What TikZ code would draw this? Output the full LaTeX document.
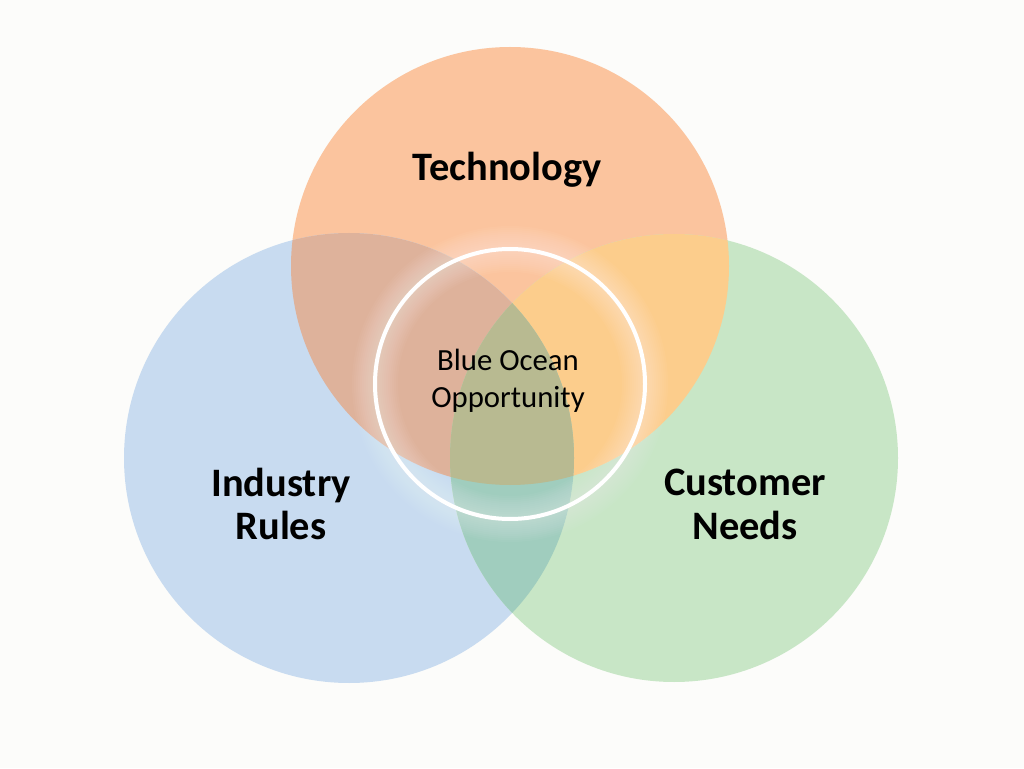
\documentclass[tikz,border=0pt]{standalone}
\usepackage{fontspec}
\setmainfont{Carlito}
\usepackage{xcolor}
\definecolor{vnbg}{RGB}{252,252,250}
\definecolor{vnorange}{RGB}{251,196,158}
\definecolor{vnblue}{RGB}{200,219,240}
\definecolor{vngreen}{RGB}{200,230,198}
\definecolor{vnob}{RGB}{222,178,155}
\definecolor{vnog}{RGB}{252,205,140}
\definecolor{vnbg2}{RGB}{160,205,190}
\definecolor{vnall}{RGB}{184,186,145}
\usetikzlibrary{positioning}

\begin{document}
\begin{tikzpicture}[x=0.02cm, y=0.02cm,
    biglabel/.style={font=\fontsize{23}{25}\selectfont\bfseries, text=black, align=center},
    midlabel/.style={font=\fontsize{17.5}{21}\selectfont, text=black, align=center}]
  % Background
  \fill[vnbg] (0,0) rectangle (1024,768);
  \useasboundingbox (0,0) rectangle (1024,768);

  % Base circles
  \fill[vnorange] (510,502) circle (219);
  \fill[vnblue] (349,310) circle (225);
  \fill[vngreen] (674,310) circle (224);

  % Pairwise overlaps
  \begin{scope}
    \clip (510,502) circle (219);
    \fill[vnob] (349,310) circle (225);
    \fill[vnog] (674,310) circle (224);
  \end{scope}
  \begin{scope}
    \clip (349,310) circle (225);
    \fill[vnbg2] (674,310) circle (224);
  \end{scope}

  % Centre overlap
  \begin{scope}
    \clip (510,502) circle (219);
    \clip (349,310) circle (225);
    \fill[vnall] (674,310) circle (224);
  \end{scope}

  % Soft glow around the centre ring
  \foreach \w in {46,42,...,6}
    \draw[white, line width=\w*0.02cm, opacity=0.035] (510,384) circle (135);
  \draw[white, line width=4*0.02cm] (510,384) circle (135);

  % Labels
  \node[biglabel] (tech) at (507,598) {Technology};
  \node[biglabel] (rules) at (281,264) {Industry\\Rules};
  \node[biglabel] (needs) at (745,264) {Customer\\Needs};
  \node[midlabel] (ocean) at (508,387) {Blue Ocean\\Opportunity};
\end{tikzpicture}
\end{document}
